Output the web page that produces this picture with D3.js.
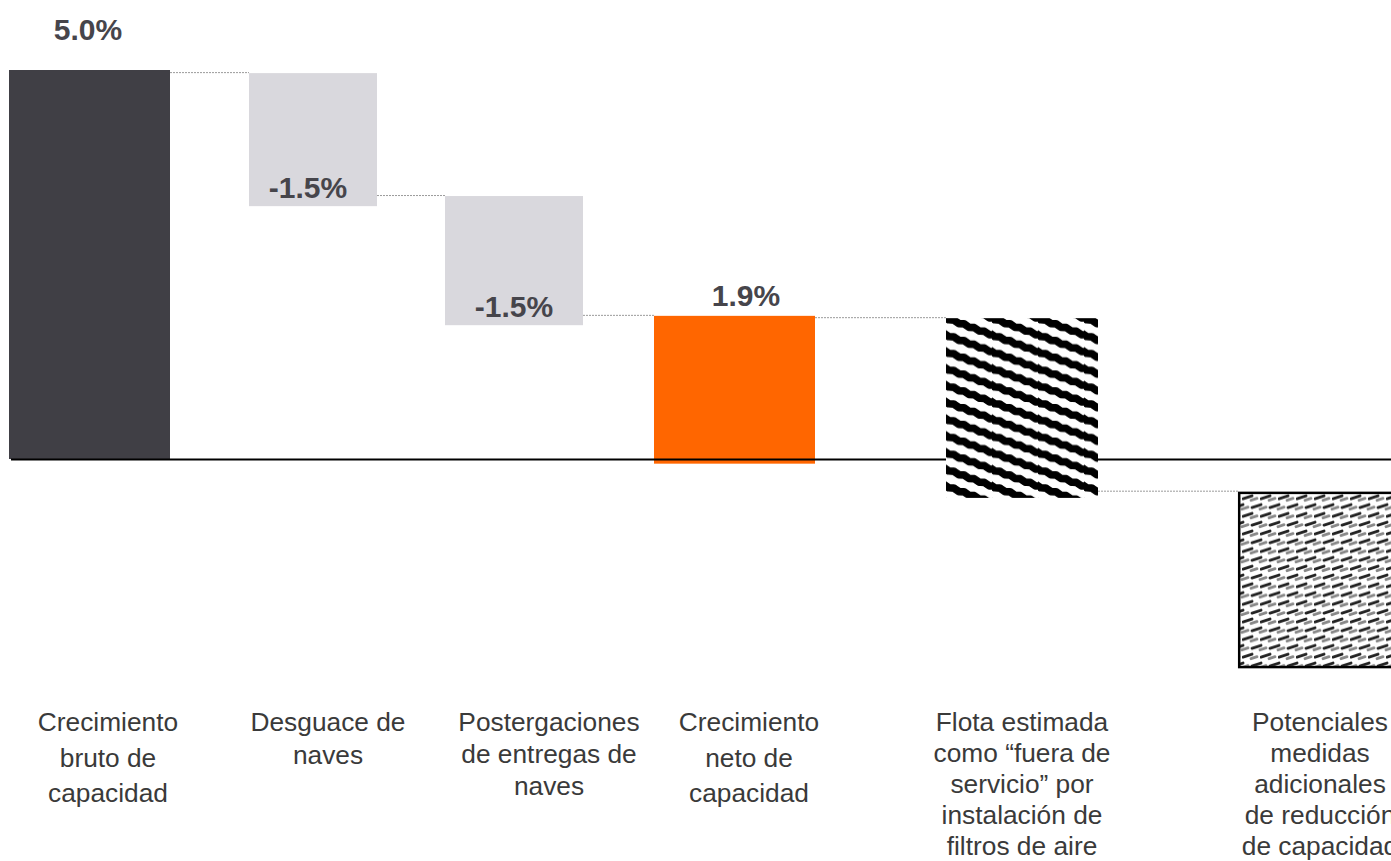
<!DOCTYPE html>
<html>
<head>
<meta charset="utf-8">
<script src="https://cdn.jsdelivr.net/npm/d3@7"></script>
<style>
  html, body { margin: 0; padding: 0; background: #ffffff; overflow: hidden; }
  svg { display: block; }
</style>
</head>
<body>
<svg id="chart" width="1391" height="861"></svg>
<script>
// ---------------- data ----------------
const categories = [
  "Crecimiento bruto de capacidad",
  "Desguace de naves",
  "Postergaciones de entregas de naves",
  "Crecimiento neto de capacidad",
  "Flota estimada como “fuera de servicio” por instalación de filtros de aire",
  "Potenciales medidas adicionales de reducción de capacidad"
];
const categoryLines = [
  ["Crecimiento", "bruto de", "capacidad"],
  ["Desguace de", "naves"],
  ["Postergaciones", "de entregas de", "naves"],
  ["Crecimiento", "neto de", "capacidad"],
  ["Flota estimada", "como “fuera de", "servicio” por", "instalación de", "filtros de aire"],
  ["Potenciales", "medidas", "adicionales", "de reducción", "de capacidad"]
];
// bar extents in % (as drawn)
const barTop    = [5.0, 4.96, 3.38, 1.84, 1.81, -0.42];
const barBottom = [0.0, 3.25, 1.72, -0.06, -0.50, -2.69];
const valueLabels = ["5.0%", "-1.5%", "-1.5%", "1.9%", "", ""];
const barKinds = ["total", "step", "step", "result", "hatch", "weave"];

// ---------------- layout ----------------
const W = 1391, H = 861;
const svg = d3.select("#chart");

const y = d3.scaleLinear().domain([0, 5]).range([459, 70]);
const xLeft  = d3.scaleOrdinal(categories, [9, 249, 445, 654, 946, 1238]);
const xRight = d3.scaleOrdinal(categories, [170, 377, 583, 815, 1098, 1400]);
const xLabel = d3.scaleOrdinal(categories, [108, 328, 549, 749, 1022, 1320]);
const xValue = d3.scaleOrdinal(categories, [88, 308, 514, 746, 0, 0]);
const lineGap = d3.scaleOrdinal(categories, [35.5, 33, 32, 35.5, 31, 31]);
const valueY = (i) => {
  if (i === 0) return y(barTop[i]) - 30;
  if (i === 3) return y(barTop[i]) - 10;
  return y(barBottom[i]) - 8;
};

const fills = {
  total: "#403f45",
  step: "#d9d8dd",
  result: "#ff6600",
  hatch: "url(#hatch)",
  weave: "url(#weave)"
};

// ---------------- patterns ----------------
const defs = svg.append("defs");
const pw = 46, ph = 16.8;
const hatch = defs.append("pattern")
  .attr("id", "hatch").attr("patternUnits", "userSpaceOnUse")
  .attr("x", 946).attr("y", 318)
  .attr("width", pw).attr("height", ph);
hatch.append("rect").attr("width", pw).attr("height", ph).attr("fill", "#fff");
function wavyLine(y0) {
  const pts = [];
  const n = 10;
  for (let k = 0; k <= n; k++) {
    const xx = -2.5 + (pw + 5) * k / n;
    const yy = y0 + ph * (xx / pw) + (k % 2 === 0 ? -0.8 : 0.8);
    pts.push([xx, yy]);
  }
  return d3.line()(pts);
}
[-ph, 0, ph].forEach(off => {
  hatch.append("path").attr("d", wavyLine(off))
    .attr("fill", "none").attr("stroke", "#000").attr("stroke-width", 7.6)
    .attr("stroke-linejoin", "round");
});

const ww = 18, wh = 17.6;
const weave = defs.append("pattern")
  .attr("id", "weave").attr("patternUnits", "userSpaceOnUse")
  .attr("width", ww).attr("height", wh);
weave.append("rect").attr("width", ww).attr("height", wh).attr("fill", "#fff");
const dashes = [
  [1, 6, 10, 3, "#222"],
  [10, 14.8, 19, 11.8, "#222"],
  [-8, 14.8, 1, 11.8, "#222"],
  [9, 7.5, 15, 5.5, "#888"],
  [0, 16.3, 6, 14.3, "#888"],
  [18, 16.3, 24, 14.3, "#888"],
  [0, -1.3, 6, -3.3, "#888"],
  [18, -1.3, 24, -3.3, "#888"]
];
dashes.forEach(d => {
  weave.append("line")
    .attr("x1", d[0]).attr("y1", d[1]).attr("x2", d[2]).attr("y2", d[3])
    .attr("stroke", d[4]).attr("stroke-width", 2.8).attr("stroke-linecap", "round");
});

// ---------------- draw ----------------
const data = categories.map((c, i) => ({
  cat: c, i, top: barTop[i], bottom: barBottom[i], kind: barKinds[i],
  label: valueLabels[i], lines: categoryLines[i]
}));

const conns = data.slice(1).map((d, k) => ({ from: data[k], to: d }));
svg.append("g").selectAll("line").data(conns).join("line")
  .attr("x1", d => xRight(d.from.cat))
  .attr("x2", d => xLeft(d.to.cat))
  .attr("y1", d => y(d.to.top) - 0.5)
  .attr("y2", d => y(d.to.top) - 0.5)
  .attr("stroke", "#9a9a9a").attr("stroke-width", 1)
  .attr("stroke-dasharray", "2,1");

const solid = data.filter(d => d.i <= 3);
const patterned = data.filter(d => d.i > 3);

svg.append("g").selectAll("rect").data(solid).join("rect")
  .attr("x", d => xLeft(d.cat))
  .attr("width", d => xRight(d.cat) - xLeft(d.cat))
  .attr("y", d => y(d.top))
  .attr("height", d => y(d.bottom) - y(d.top))
  .attr("fill", d => fills[d.kind]);

svg.append("line")
  .attr("x1", 11).attr("x2", W)
  .attr("y1", y(0) + 0.5).attr("y2", y(0) + 0.5)
  .attr("stroke", "#000").attr("stroke-width", 2);

svg.append("g").selectAll("rect").data(patterned).join("rect")
  .attr("x", d => xLeft(d.cat) + (d.kind === "weave" ? 1.2 : 0))
  .attr("width", d => xRight(d.cat) - xLeft(d.cat))
  .attr("y", d => y(d.top) + (d.kind === "weave" ? 1.2 : 0))
  .attr("height", d => y(d.bottom) - y(d.top) - (d.kind === "weave" ? 2.4 : 0))
  .attr("fill", d => fills[d.kind])
  .attr("stroke", d => d.kind === "weave" ? "#000" : "none")
  .attr("stroke-width", 2.5);

svg.append("g").selectAll("text").data(data.filter(d => d.label)).join("text")
  .attr("x", d => xValue(d.cat))
  .attr("y", d => valueY(d.i))
  .attr("text-anchor", "middle")
  .attr("font-family", "'Liberation Sans', Arial, Helvetica, sans-serif")
  .attr("font-weight", "bold")
  .attr("font-size", 30)
  .attr("fill", "#46454b")
  .text(d => d.label);

const lg = svg.append("g").selectAll("text").data(data).join("text")
  .attr("x", d => xLabel(d.cat))
  .attr("y", 731)
  .attr("text-anchor", "middle")
  .attr("font-family", "'Liberation Sans', Arial, Helvetica, sans-serif")
  .attr("font-size", 26.3)
  .attr("fill", "#3a3a3a");
lg.selectAll("tspan").data(d => d.lines.map(t => ({ t, x: xLabel(d.cat), gap: lineGap(d.cat) }))).join("tspan")
  .attr("x", t => t.x)
  .attr("dy", (t, j) => j === 0 ? 0 : t.gap)
  .text(t => t.t);
</script>
</body>
</html>
